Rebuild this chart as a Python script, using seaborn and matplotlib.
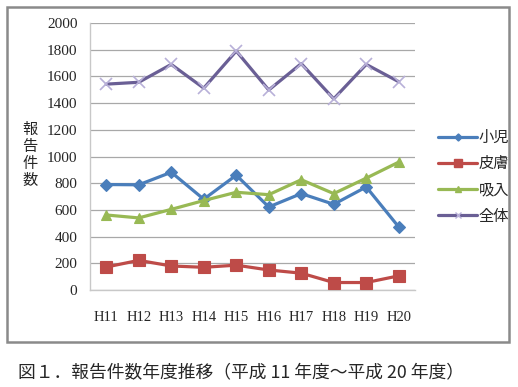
import numpy as np
import pandas as pd
import matplotlib.pyplot as plt
import seaborn as sns
from matplotlib.patches import Rectangle

# データ
years = ['H11', 'H12', 'H13', 'H14', 'H15', 'H16', 'H17', 'H18', 'H19', 'H20']
shouni = [790, 788, 882, 680, 860, 622, 722, 642, 772, 472]
hifu = [172, 222, 180, 170, 186, 150, 126, 56, 56, 106]
kyunyu = [562, 540, 604, 670, 732, 714, 826, 722, 838, 958]
zentai = [1542, 1556, 1690, 1512, 1790, 1498, 1696, 1432, 1690, 1560]
series_names = ['小児', '皮膚', '吸入', '全体']
y_ticks = list(range(0, 2001, 200))

colors = ['#4a7ebb', '#be4b48', '#98b954', '#6a5f95']
markers = ['D', 's', '^', 'x']
msizes = [6, 8.5, 7, 8]

df = pd.DataFrame({
    'year': years * 4,
    'value': shouni + hifu + kyunyu + zentai,
    'series': sum([[n] * len(years) for n in series_names], []),
})
df['x'] = df['year'].map({y: i for i, y in enumerate(years)})

sns.set_theme(style='white')
plt.rcParams['font.family'] = ['Liberation Serif', 'Noto Sans CJK JP']
jp = ['Noto Sans CJK JP', 'DejaVu Sans']

fig = plt.figure(figsize=(5.18, 3.87), dpi=100)
ax = fig.add_axes([90 / 518, 1 - 290 / 387, 325 / 518, 267 / 387])

for name, c, m, ms in zip(series_names, colors, markers, msizes):
    sub = df[df['series'] == name]
    mec = c if m != 'x' else '#b8b0d8'
    sns.lineplot(data=sub, x='x', y='value', color=c, marker=m, markersize=ms,
                 markeredgecolor=mec, markeredgewidth=1.2 if m == 'x' else 0.8,
                 linewidth=2.3, ax=ax, zorder=3)

ax.set_xlim(-0.5, len(years) - 0.5)
ax.set_ylim(0, 2000)
ax.set_xticks(range(len(years)))
ax.set_xticklabels(years)
ax.set_yticks(y_ticks)
ax.set_yticklabels([str(v) for v in y_ticks])
ax.tick_params(axis='x', length=0, pad=15, labelsize=10.5)
ax.tick_params(axis='y', length=0, pad=9, labelsize=11)
ax.set_xlabel('')
ax.set_ylabel('')
ax.grid(axis='y', color='#a8a8a8', linewidth=0.9)
ax.set_axisbelow(True)
for s in ['top', 'right']:
    ax.spines[s].set_visible(False)
for s in ['left', 'bottom']:
    ax.spines[s].set_color('#c8c8c8')
    ax.spines[s].set_linewidth(1.0)

# 凡例
handles = [plt.Line2D([], [], color=c, marker=m, markersize=ms * 0.6, linewidth=2.3,
                      markeredgecolor=c if m != 'x' else '#b8b0d8')
           for c, m, ms in zip(colors, markers, msizes)]
leg = fig.legend(handles, series_names, loc='center left',
                 bbox_to_anchor=(430 / 518, 1 - 177 / 387), frameon=False,
                 prop={'family': jp, 'size': 11}, handlelength=2.6,
                 handletextpad=0.1, labelspacing=0.6, borderpad=0)

# 縦書きの軸ラベル
fig.text(30 / 518, 1 - 155 / 387, '報\n告\n件\n数', ha='center', va='center',
         family=jp, fontsize=11, linespacing=1.0)

# 外枠
fig.patches.append(Rectangle((7 / 518, 1 - 342 / 387), 502 / 518, 335 / 387,
                             transform=fig.transFigure, fill=False,
                             edgecolor='#8a8a8a', linewidth=1.8))

fig.text(18 / 518, 1 - 373 / 387, '図１．報告件数年度推移（平成 11 年度～平成 20 年度）',
         ha='left', va='center', family=jp, fontsize=12.8)

fig.savefig('out.png', dpi=100)
